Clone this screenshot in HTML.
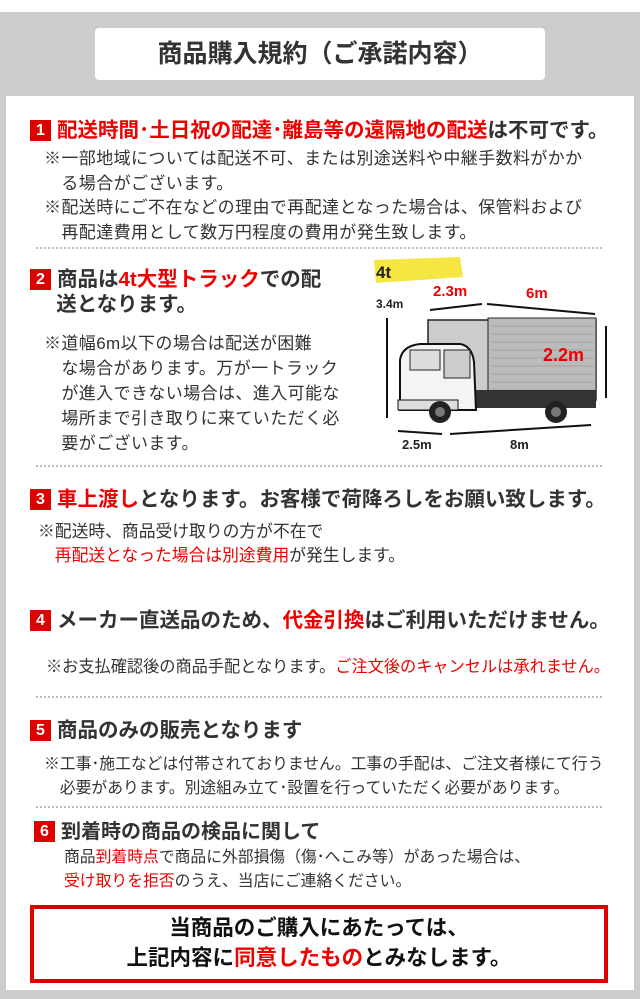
<!DOCTYPE html>
<html><head><meta charset="utf-8"><style>
*{margin:0;padding:0}
body{width:640px;height:999px;position:relative;background:#fff;font-family:"Liberation Sans","Noto Sans CJK JP",sans-serif;color:#333;overflow:hidden}
.bg{position:absolute;left:0;top:12px;width:640px;height:987px;background:#ccc}
.panel{position:absolute;left:6px;top:96px;width:628px;height:894px;background:#fff}
.title{position:absolute;left:95px;top:28px;width:450px;height:52px;background:#fff;border-radius:4px;text-align:center;line-height:52px;font-size:25px;font-weight:bold;color:#333}
.t{position:absolute;white-space:nowrap}
.h{font-size:20.5px;font-weight:bold;color:#333}
.b{font-size:17px;letter-spacing:0.4px;color:#333}
.r{color:#e00}
.badge{display:inline-block;width:21px;height:21px;background:#d00;color:#fff;font-size:16px;font-weight:bold;text-align:center;line-height:21px;margin-right:6px;vertical-align:2px;letter-spacing:0}
.dot{position:absolute;left:36px;width:566px;border-top:2px dotted #bbb}
.box{position:absolute;left:30px;top:905px;width:570px;height:66px;border:4px solid #d00;text-align:center;font-size:21.5px;font-weight:bold;color:#111;line-height:30px;padding-top:4px;box-sizing:content-box}
</style></head><body>
<div class="bg"></div>
<div class="panel"></div>
<div class="title">商品購入規約（ご承諾内容）</div>

<div class="t h" style="left:30px;top:113px"><span class="badge">1</span><span class="r">配送時間･土日祝の配達･離島等の遠隔地の配送</span>は不可です。</div>
<div class="t b" style="left:44px;top:147px;line-height:24.5px">※一部地域については配送不可、または別途送料や中継手数料がかか<br>　る場合がございます。<br>※配送時にご不在などの理由で再配達となった場合は、保管料および<br>　再配達費用として数万円程度の費用が発生致します。</div>
<div class="dot" style="top:247px"></div>

<div class="t h" style="left:30px;top:267px;line-height:25px"><span class="badge">2</span>商品は<span class="r">4t大型トラック</span>での配<br>　 送となります。</div>
<div class="t b" style="left:44px;top:331px;line-height:25px">※道幅6m以下の場合は配送が困難<br>　な場合があります。万が一トラック<br>　が進入できない場合は、進入可能な<br>　場所まで引き取りに来ていただく必<br>　要がございます。</div>

<svg style="position:absolute;left:360px;top:250px" width="260" height="210" viewBox="0 0 260 210">
<polygon points="14,10 100,7 103,27 16,33" fill="#f5e642"/>
<text x="16" y="28" font-size="17" font-weight="bold" fill="#222" font-family="Liberation Sans">4t</text>
<text x="73" y="46" font-size="15" font-weight="bold" fill="#e00" font-family="Liberation Sans">2.3m</text>
<text x="166" y="48" font-size="15" font-weight="bold" fill="#e00" font-family="Liberation Sans">6m</text>
<text x="16" y="58" font-size="12" font-weight="bold" fill="#222" font-family="Liberation Sans">3.4m</text>
<g stroke="#111" stroke-width="2" fill="#111">
<line x1="70" y1="60" x2="122" y2="54"/><line x1="127" y1="54" x2="235" y2="64"/>
<line x1="27" y1="68" x2="27" y2="168"/><line x1="246" y1="76" x2="246" y2="148"/>
<line x1="38" y1="181" x2="82" y2="184"/><line x1="90" y1="184" x2="231" y2="175"/>
</g>
<rect x="68" y="70" width="168" height="80" fill="#ccc" stroke="#222" stroke-width="1.5"/>
<rect x="128" y="68" width="108" height="82" fill="#bbb" stroke="#222"/>
<g stroke="#999" stroke-width="0.8">
<line x1="130" y1="76" x2="234" y2="76"/><line x1="130" y1="84" x2="234" y2="84"/><line x1="130" y1="92" x2="234" y2="92"/><line x1="130" y1="100" x2="234" y2="100"/><line x1="130" y1="108" x2="234" y2="108"/><line x1="130" y1="116" x2="234" y2="116"/><line x1="130" y1="124" x2="234" y2="124"/><line x1="130" y1="132" x2="234" y2="132"/><line x1="130" y1="140" x2="234" y2="140"/>
</g>
<rect x="100" y="140" width="136" height="18" fill="#333"/>
<path d="M40 160 L40 110 Q42 96 60 94 L100 94 Q112 96 114 112 L116 160 Z" fill="#f4f4f4" stroke="#111" stroke-width="2"/>
<rect x="50" y="100" width="30" height="20" fill="#ddd" stroke="#222"/>
<rect x="84" y="100" width="26" height="28" fill="#ccc" stroke="#222"/>
<rect x="38" y="150" width="60" height="10" fill="#ddd" stroke="#111"/>
<circle cx="80" cy="162" r="11" fill="#222"/><circle cx="80" cy="162" r="5" fill="#777"/>
<circle cx="196" cy="162" r="11" fill="#222"/><circle cx="196" cy="162" r="5" fill="#777"/>
<text x="183" y="111" font-size="18" font-weight="bold" fill="#e00" font-family="Liberation Sans">2.2m</text>
<text x="42" y="199" font-size="13" font-weight="bold" fill="#222" font-family="Liberation Sans">2.5m</text>
<text x="150" y="199" font-size="13" font-weight="bold" fill="#222" font-family="Liberation Sans">8m</text>
</svg>
<div class="dot" style="top:465px"></div>

<div class="t h" style="left:30px;top:482px"><span class="badge">3</span><span class="r">車上渡し</span>となります。お客様で荷降ろしをお願い致します。</div>
<div class="t b" style="left:38px;top:520px;line-height:24px;font-size:16.8px;letter-spacing:0">※配送時、商品受け取りの方が不在で<br>　<span class="r">再配送となった場合は別途費用</span>が発生します。</div>

<div class="t h" style="left:30px;top:603px"><span class="badge">4</span>メーカー直送品のため、<span class="r">代金引換</span>はご利用いただけません。</div>
<div class="t" style="left:46px;top:653px;font-size:16.2px">※お支払確認後の商品手配となります。<span class="r">ご注文後のキャンセルは承れません。</span></div>
<div class="dot" style="top:696px"></div>

<div class="t h" style="left:30px;top:713px"><span class="badge">5</span>商品のみの販売となります</div>
<div class="t" style="left:44px;top:753px;font-size:15.8px;line-height:24px">※工事･施工などは付帯されておりません。工事の手配は、ご注文者様にて行う<br>　必要があります。別途組み立て･設置を行っていただく必要があります。</div>
<div class="dot" style="top:806px"></div>

<div class="t h" style="left:34px;top:815px;font-size:20px"><span class="badge">6</span>到着時の商品の検品に関して</div>
<div class="t" style="left:64px;top:846px;line-height:24px;font-size:15.8px">商品<span class="r">到着時点</span>で商品に外部損傷（傷･へこみ等）があった場合は、<br><span class="r">受け取りを拒否</span>のうえ、当店にご連絡ください。</div>

<div class="box">当商品のご購入にあたっては、<br>上記内容に<span class="r">同意したもの</span>とみなします。</div>
</body></html>
